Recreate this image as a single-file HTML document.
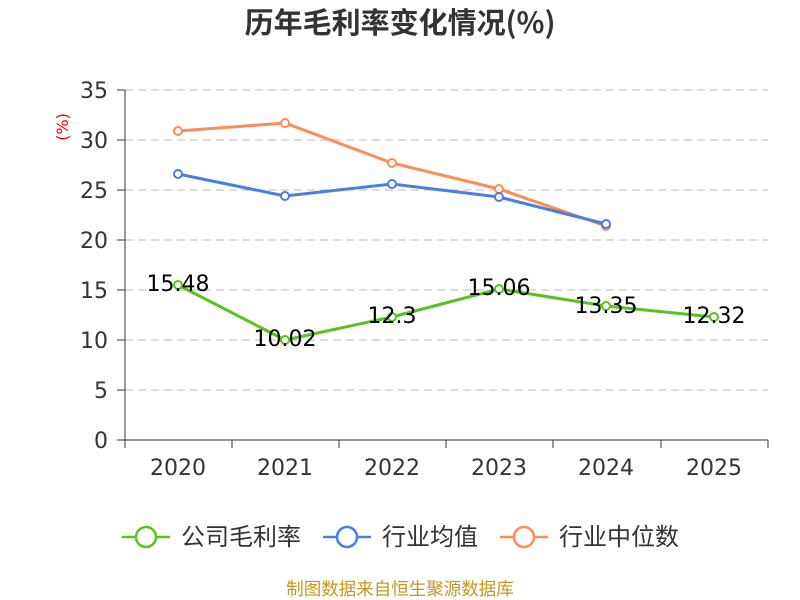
<!DOCTYPE html>
<html><head><meta charset="utf-8"><style>
body{margin:0;background:#fff;}
svg{display:block;font-family:"DejaVu Sans","Noto Sans CJK SC",sans-serif;}
</style></head><body>
<svg width="800" height="600" viewBox="0 0 800 600">
<text x="400" y="33" text-anchor="middle" font-size="29" font-weight="bold" fill="#333" font-family="Noto Sans CJK SC,sans-serif">历年毛利率变化情况(%)</text>
<g stroke="#bbb" stroke-dasharray="8,5" stroke-width="1">
<line x1="125" x2="768" y1="90" y2="90"/><line x1="125" x2="768" y1="140" y2="140"/>
<line x1="125" x2="768" y1="190" y2="190"/><line x1="125" x2="768" y1="240" y2="240"/>
<line x1="125" x2="768" y1="290" y2="290"/><line x1="125" x2="768" y1="340" y2="340"/>
<line x1="125" x2="768" y1="390" y2="390"/>
</g>
<g stroke="#333" stroke-width="1">
<line x1="125" x2="125" y1="90" y2="440"/><line x1="125" x2="768" y1="440" y2="440"/>
<line x1="117" x2="125" y1="90" y2="90"/><line x1="117" x2="125" y1="140" y2="140"/><line x1="117" x2="125" y1="190" y2="190"/><line x1="117" x2="125" y1="240" y2="240"/><line x1="117" x2="125" y1="290" y2="290"/><line x1="117" x2="125" y1="340" y2="340"/><line x1="117" x2="125" y1="390" y2="390"/><line x1="117" x2="125" y1="440" y2="440"/>
<line x1="125" x2="125" y1="440" y2="448"/><line x1="232" x2="232" y1="440" y2="448"/><line x1="339" x2="339" y1="440" y2="448"/><line x1="446" x2="446" y1="440" y2="448"/><line x1="553" x2="553" y1="440" y2="448"/><line x1="661" x2="661" y1="440" y2="448"/><line x1="768" x2="768" y1="440" y2="448"/>
</g>
<g font-size="22" fill="#333" text-anchor="end">
<text x="108" y="98">35</text><text x="108" y="148">30</text><text x="108" y="198">25</text><text x="108" y="248">20</text><text x="108" y="298">15</text><text x="108" y="348">10</text><text x="108" y="398">5</text><text x="108" y="448">0</text>
</g>
<g font-size="22" fill="#333" text-anchor="middle">
<text x="178" y="475">2020</text><text x="285" y="475">2021</text><text x="392" y="475">2022</text><text x="499" y="475">2023</text><text x="606" y="475">2024</text><text x="714" y="475">2025</text>
</g>
<text transform="translate(68,127) rotate(-90)" font-size="16" fill="#e00" text-anchor="middle">(%)</text>
<g fill="none" stroke-width="3">
<polyline stroke="#ff8c55" points="178,131 285,123 392,163 499,189 606,226"/>
<polyline stroke="#4a7ee0" points="178,174 285,196 392,184 499,197 606,224"/>
<polyline stroke="#5ac21d" points="178,285 285,340 392,317 499,289 606,306 714,317"/>
</g>
<g fill="#fff" stroke-width="2">
<g stroke="#ff8c55"><circle cx="178" cy="131" r="4"/><circle cx="285" cy="123" r="4"/><circle cx="392" cy="163" r="4"/><circle cx="499" cy="189" r="4"/><circle cx="606" cy="226" r="4"/></g>
<g stroke="#4a7ee0"><circle cx="178" cy="174" r="4"/><circle cx="285" cy="196" r="4"/><circle cx="392" cy="184" r="4"/><circle cx="499" cy="197" r="4"/><circle cx="606" cy="224" r="4"/></g>
<g stroke="#5ac21d"><circle cx="178" cy="285" r="4"/><circle cx="285" cy="340" r="4"/><circle cx="392" cy="317" r="4"/><circle cx="499" cy="289" r="4"/><circle cx="606" cy="306" r="4"/><circle cx="714" cy="317" r="4"/></g>
</g>
<g font-size="22" fill="#000" text-anchor="middle">
<text x="178" y="291">15.48</text><text x="285" y="346">10.02</text><text x="392" y="323">12.3</text><text x="499" y="295">15.06</text><text x="606" y="313">13.35</text><text x="714" y="323">12.32</text>
</g>
<g stroke-width="2.5" fill="#fff">
<line x1="122" x2="170" y1="537" y2="537" stroke="#5ac21d"/><circle cx="146" cy="537" r="10" stroke="#5ac21d"/>
<line x1="323" x2="371" y1="537" y2="537" stroke="#4a7ee0"/><circle cx="347" cy="537" r="10" stroke="#4a7ee0"/>
<line x1="500" x2="548" y1="537" y2="537" stroke="#ff8c55"/><circle cx="524" cy="537" r="10" stroke="#ff8c55"/>
</g>
<g font-size="24" fill="#333" font-family="Noto Sans CJK SC,sans-serif">
<text x="181" y="545">公司毛利率</text><text x="382" y="545">行业均值</text><text x="559" y="545">行业中位数</text>
</g>
<text x="400" y="595" text-anchor="middle" font-size="17.5" fill="#c8961e" font-family="Noto Sans CJK SC,sans-serif">制图数据来自恒生聚源数据库</text>
</svg>
</body></html>
